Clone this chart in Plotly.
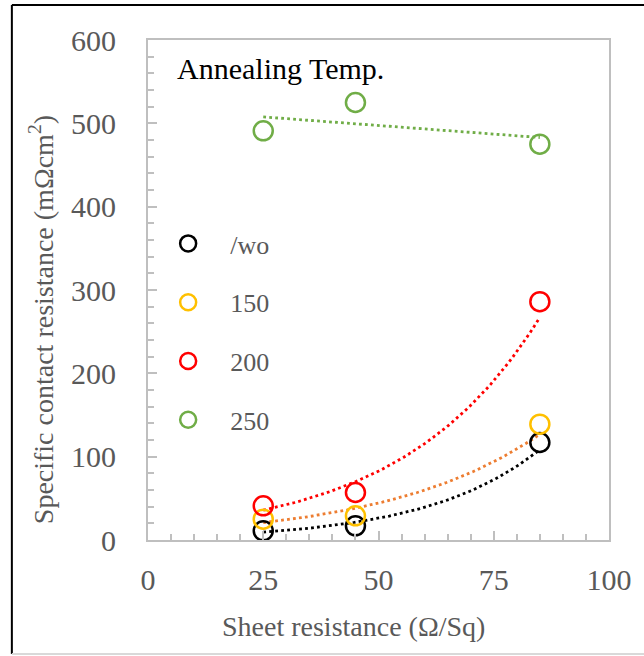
import numpy as np
import plotly.graph_objects as go

# Sheet resistance (Ohm/Sq) of the samples
sheet_res = [25, 45, 85]

# Specific contact resistance (mOhm cm^2) per annealing temperature
rc_wo = [11, 17, 117]
rc_150 = [25, 29, 139]
rc_200 = [41, 57, 286]
rc_250 = [491, 525, 475]

series_names = ["/wo", "150", "200", "250"]
marker_colors = ["#000000", "#FFC000", "#FF0000", "#70AD47"]
trend_colors = ["#000000", "#ED7D31", "#FF0000", "#70AD47"]

FONT = "Liberation Serif"
GRAY_TXT = "#595959"
AXIS_GRAY = "#BFBFBF"

fig = go.Figure()

x_arr = np.array(sheet_res, dtype=float)
x_fit = np.linspace(x_arr.min(), x_arr.max(), 80)

for name, ys, mc, tc in zip(series_names, [rc_wo, rc_150, rc_200, rc_250],
                            marker_colors, trend_colors):
    # exponential trendline y = a * exp(b x), least squares on log(y)
    b, ln_a = np.polyfit(x_arr, np.log(np.array(ys, dtype=float)), 1)
    fig.add_trace(go.Scatter(
        x=x_fit, y=np.exp(ln_a + b * x_fit), mode="lines",
        line=dict(color=tc, width=2.8, dash="2.8px,3.2px"),
        showlegend=False, hoverinfo="skip",
    ))

for name, ys, mc in zip(series_names, [rc_wo, rc_150, rc_200, rc_250], marker_colors):
    fig.add_trace(go.Scatter(
        x=sheet_res, y=ys, mode="markers", name=name, legendgroup=name,
        marker=dict(symbol="circle-open", size=19, color=mc,
                    line=dict(color=mc, width=2.5)),
    ))

axis_common = dict(
    showgrid=False, zeroline=False, showline=True, mirror=True,
    linecolor=AXIS_GRAY, linewidth=2,
    ticks="inside", ticklen=9, tickwidth=1.5, tickcolor=AXIS_GRAY,
    tickfont=dict(family=FONT, size=30, color=GRAY_TXT),
)

fig.update_xaxes(
    range=[0, 100], tickmode="array", tickvals=[0, 25, 50, 75, 100],
    minor=dict(dtick=5, ticks="inside", ticklen=6, tickwidth=1.5, tickcolor=AXIS_GRAY),
    ticklabelstandoff=12,
    **axis_common,
)
fig.update_yaxes(
    range=[0, 600], tickmode="linear", tick0=0, dtick=100,
    minor=dict(dtick=20, ticks="inside", ticklen=6, tickwidth=1.5, tickcolor=AXIS_GRAY),
    ticklabelstandoff=24,
    **axis_common,
)

# Frame around the whole figure
fig.add_shape(type="line", xref="paper", yref="paper",
              x0=-0.2953, x1=1.2, y0=1.07, y1=1.07,
              line=dict(color="#000000", width=2))
fig.add_shape(type="line", xref="paper", yref="paper",
              x0=-0.2953, x1=-0.2953, y0=1.07, y1=-0.228,
              line=dict(color="#000000", width=2))
fig.add_shape(type="line", xref="paper", yref="paper",
              x0=-0.2953, x1=1.2, y0=-0.228, y1=-0.228,
              line=dict(color="#D9D9D9", width=2))

fig.add_annotation(
    text="Annealing Temp.", xref="paper", yref="paper",
    x=0.0582, y=0.944, xanchor="left", yanchor="middle", showarrow=False,
    font=dict(family=FONT, size=30, color="#000000"),
)
fig.add_annotation(
    text="Specific contact resistance (mΩcm<sup>2</sup>)", xref="paper", yref="paper",
    x=-0.2306, y=0.441, xanchor="center", yanchor="middle", showarrow=False,
    textangle=-90, font=dict(family=FONT, size=28, color=GRAY_TXT),
)
fig.add_annotation(
    text="Sheet resistance (Ω/Sq)", xref="paper", yref="paper",
    x=0.446, y=-0.172, xanchor="center", yanchor="middle", showarrow=False,
    font=dict(family=FONT, size=28, color=GRAY_TXT),
)

fig.update_layout(
    width=644, height=656,
    margin=dict(l=148, r=32, t=40, b=116),
    paper_bgcolor="#FFFFFF", plot_bgcolor="#FFFFFF",
    showlegend=True,
    legend=dict(
        x=-0.004, y=0.64, xanchor="left", yanchor="top",
        bgcolor="rgba(0,0,0,0)", borderwidth=0,
        font=dict(family=FONT, size=26, color=GRAY_TXT),
        itemwidth=74, traceorder="grouped", tracegroupgap=22,
    ),
)

fig.write_html("out.html")
